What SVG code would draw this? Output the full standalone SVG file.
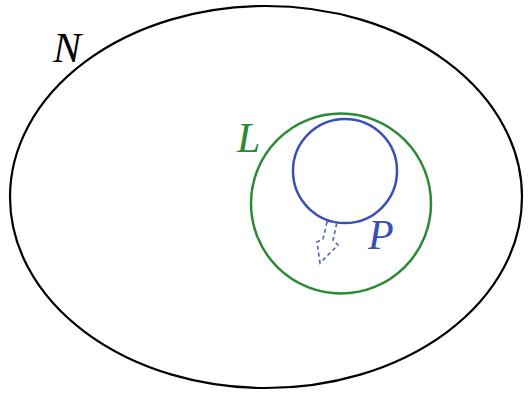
<svg xmlns="http://www.w3.org/2000/svg" width="532" height="394" viewBox="0 0 532 394">
<style>
.lbl{font-family:"Liberation Serif",serif;font-style:italic;font-size:42px}
</style>
<rect width="532" height="394" fill="#fff"/>
<g id="N">
<ellipse cx="266" cy="197" rx="256" ry="191" fill="none" stroke="#000" stroke-width="2.2"/>
<text class="lbl" x="53" y="62" fill="#000">N</text>
</g>
<g id="L">
<circle cx="341" cy="203.5" r="90" fill="none" stroke="#2a8a35" stroke-width="2.5"/>
<text class="lbl" x="237" y="152" fill="#2a8a35">L</text>
</g>
<g id="P">
<circle cx="345" cy="171" r="52" fill="none" stroke="#3a4fb5" stroke-width="2.5"/>
<text class="lbl" x="368" y="249" fill="#3a4fb5">P</text>
</g>
<g id="connectors">
<polygon points="327,222 323,239 317,242 320,263 338,245 333,240 337,222" fill="none" stroke="#5060c0" stroke-width="1.6" stroke-dasharray="4,3"/>
</g>
</svg>
